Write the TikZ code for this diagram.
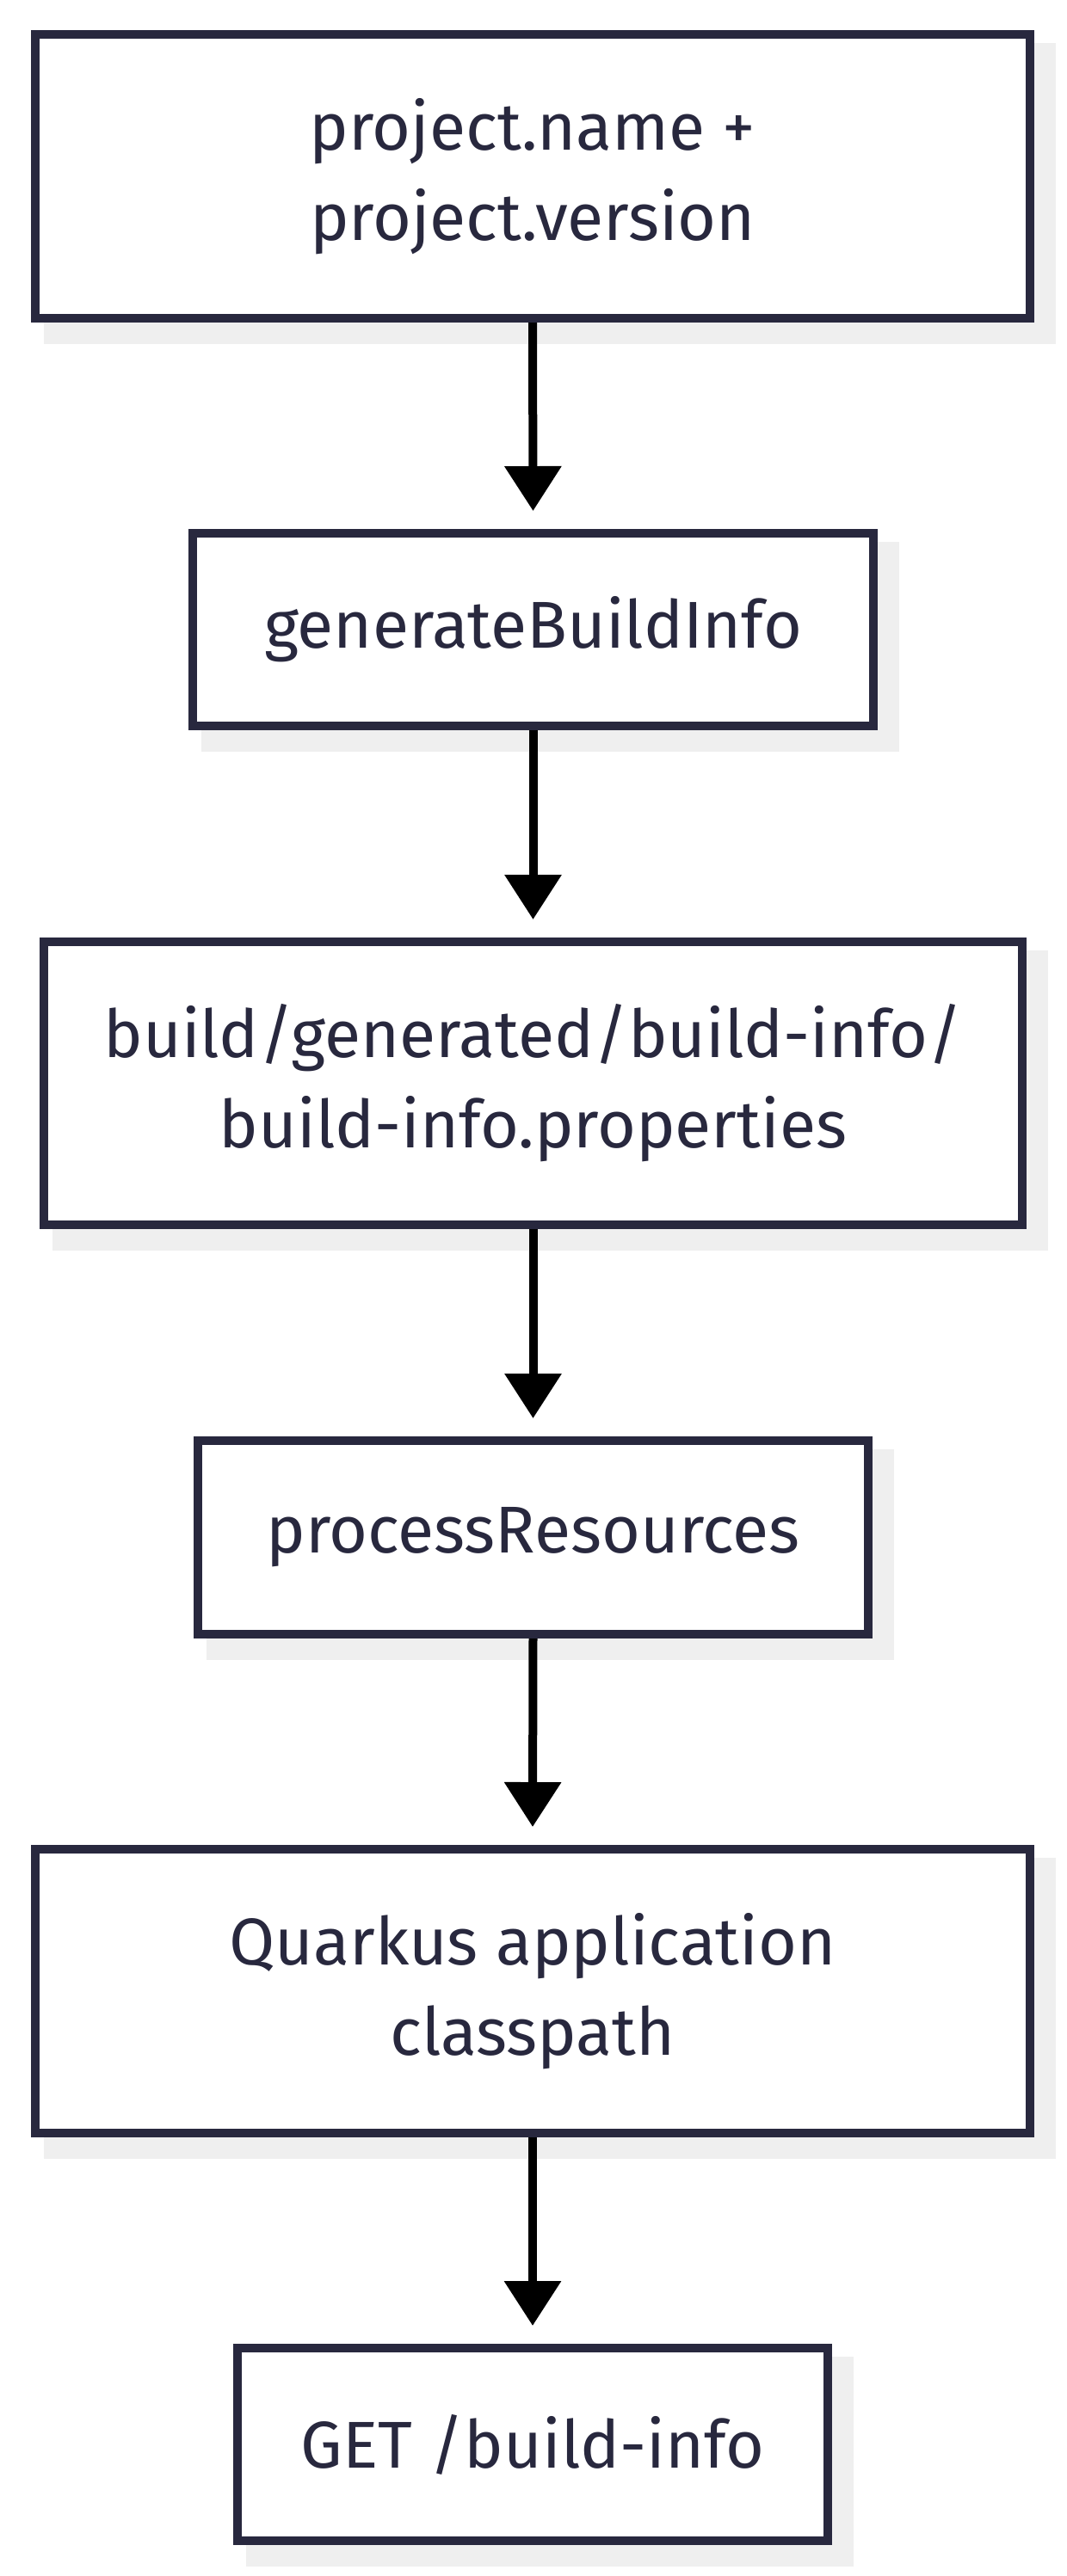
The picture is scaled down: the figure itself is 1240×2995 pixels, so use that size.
\documentclass[tikz,border=0pt]{standalone}
\usepackage{fontspec}
\setmainfont{Fira Sans}
\usetikzlibrary{arrows.meta,positioning,backgrounds}
\definecolor{boxline}{HTML}{28283E}
\definecolor{boxshade}{HTML}{EFEFEF}
\tikzset{>={Triangle[width=32pt,length=26pt]}}
\tikzset{
  stepbox/.style={draw=boxline, line width=5pt, fill=white, text=boxline,
    inner sep=0pt, align=center, font=\fontsize{38.5}{52.5}\selectfont},
  flow/.style={->, line width=5pt, black}
}

\begin{document}
\begin{tikzpicture}[x=0.5pt,y=-0.5pt]
  \useasboundingbox (0,0) rectangle (1240,2995);

  % Draw the build steps
  \node[stepbox, minimum width=578pt, minimum height=165pt] (b1) at (619,205) {project.name +\\project.version};
  \node[stepbox, minimum width=395.5pt, minimum height=112pt] (b2) at (619.5,732) {generateBuildInfo};
  \node[stepbox, minimum width=568.5pt, minimum height=164.5pt] (b3) at (619.5,1259.5) {build/generated/build-info/\\build-info.properties};
  \node[stepbox, minimum width=389.5pt, minimum height=112.5pt] (b4) at (619.5,1787.5) {processResources};
  \node[stepbox, minimum width=578pt, minimum height=165pt] (b5) at (619,2315) {Quarkus application\\classpath};
  \node[stepbox, minimum width=343pt, minimum height=112pt] (b6) at (619,2842) {GET /build-info};

  % Draw the shadows behind the boxes
  \begin{scope}[on background layer]
    \foreach \n in {b1,b2,b3,b4,b5,b6}
      \fill[boxshade] ([shift={(15,15)}]\n.north west) rectangle ([shift={(25,25)}]\n.south east);
  \end{scope}

  % Draw the arrows
  \draw[flow] (b1.south) -- ([yshift=10.5pt]b2.north);
  \draw[flow] (b2.south) -- ([yshift=10.5pt]b3.north);
  \draw[flow] (b3.south) -- ([yshift=10.5pt]b4.north);
  \draw[flow] (b4.south) -- ([yshift=10.5pt]b5.north);
  \draw[flow] (b5.south) -- ([yshift=10.5pt]b6.north);
\end{tikzpicture}
\end{document}
